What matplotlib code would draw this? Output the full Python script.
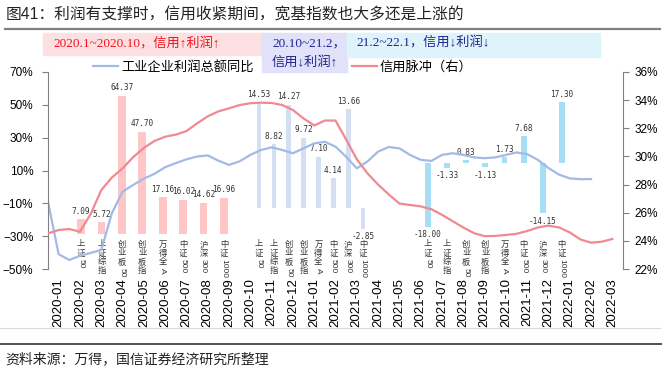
import matplotlib.pyplot as plt
import numpy as np
import pandas as pd
from matplotlib.patches import Rectangle
from matplotlib.lines import Line2D
from matplotlib.transforms import blended_transform_factory, offset_copy

plt.rcParams['font.family'] = ['Liberation Sans', 'Noto Sans CJK SC']

# x axis: months
months = pd.date_range('2020-01', '2022-03', freq='MS').strftime('%Y-%m').tolist()

# lines, read every half month starting half a month before 2020-01
line_x = np.arange(-0.5, 26.01, 0.5)
profit_yoy = [-9, -41, -44.5, -42, -40.2, -38.4, -16, -2.9, 1.2, 5, 8, 12, 14.5,
              16.8, 18.5, 19.2, 16, 13.4, 15.6, 19.5, 22.5, 24.1, 22.5, 20.5, 23.5,
              26.5, 27.5, 24.5, 18.4, 11.3, 15.5, 21.5, 24.3, 23.5, 19.5, 16.5, 15.8,
              19.5, 20.5, 19.5, 18.0, 17.5, 18.0, 19.5, 21.0, 20.0, 16.5, 11.5, 7.5,
              5.2, 4.7, 4.8]
credit_impulse = [24.53, 24.77, 24.84, 24.65, 25.9, 27.6, 28.5, 29.15, 29.95, 30.6,
                  31.1, 31.4, 31.55, 31.8, 32.35, 32.85, 33.2, 33.42, 33.65, 33.78,
                  33.82, 33.8, 33.65, 33.3, 32.7, 32.2, 32.55, 32.55, 31.2, 29.8,
                  28.8, 28.0, 27.3, 26.65, 26.55, 26.45, 26.25, 25.85, 25.4, 24.95,
                  24.55, 24.33, 24.35, 24.42, 24.5, 24.7, 24.95, 25.08, 24.95, 24.6,
                  24.1, 23.87, 23.94, 24.13]

# index returns (%) in the three periods
index_names = ['上证50', '上证综指', '创业板50', '创业板指', '万得全A', '中证500', '沪深300', '中证1000']
ret_2020 = [7.09, 5.72, 64.37, 47.70, 17.16, 16.02, 14.62, 16.96]
ret_2020_2021 = [14.53, 8.82, 14.27, 9.72, 7.10, 4.14, 13.66, -2.85]
ret_2021_2022 = [-18.00, -1.33, 0.83, -1.13, 1.73, 7.68, -14.15, 17.30]

W, H = 662, 378
fig = plt.figure(figsize=(W / 100, H / 100), dpi=100)


def box(l, t, r, b):
    # pixel box -> figure fraction rect
    return [l / W, 1 - b / H, (r - l) / W, (b - t) / H]


blue = '#a3b9e6'
red = '#f08a90'
navy = '#23238f'

# bar groups, each on its own hidden axes
groups = [
    (ret_2020, '#ffc6c8', box(70.8, 83.6, 234.2, 234.3), (0, 70), 0.38),
    (ret_2020_2021, '#d5dff2', box(251.6, 92.0, 370.5, 244.65), (-5, 16), 0.32),
    (ret_2021_2022, '#a6def6', box(418.4, 92.9, 571.5, 233.7), (-20, 20), 0.31),
]
label_top = 1 - 241 / H
for vals, col, rect, ylim, bw in groups:
    axb = fig.add_axes(rect)
    axb.bar(range(len(vals)), vals, width=bw, color=col)
    axb.set_xlim(-0.5, len(vals) - 0.5)
    axb.set_ylim(*ylim)
    axb.axis('off')
    for i, v in enumerate(vals):
        axb.annotate(f'{v:.2f}', (i, v), xytext=(0, 2.5 if v >= 0 else -2.5),
                     textcoords='offset points', ha='center',
                     va='bottom' if v >= 0 else 'top', fontsize=5.6,
                     family='DejaVu Sans Mono', color='#333333')
    trans = blended_transform_factory(axb.transData, fig.transFigure)
    for i, name in enumerate(index_names):
        cjk = ''.join(c for c in name if ord(c) > 127)
        asc = name[len(cjk):]
        for k, ch in enumerate(cjk):
            axb.text(i, label_top, ch, transform=offset_copy(trans, fig=fig, y=-k * 6.2, units='points'),
                     ha='center', va='top', fontsize=6, color='#333333')
        if asc:
            axb.text(i, label_top, asc,
                     transform=offset_copy(trans, fig=fig, y=-len(cjk) * 6.2 - 0.5, units='points'),
                     rotation=270, ha='center', va='top', fontsize=6, color='#333333')

# main axes with the two lines
ax = fig.add_axes(box(48, 72, 623, 269))
ax.patch.set_visible(False)
l1, = ax.plot(line_x[:len(profit_yoy)], profit_yoy, color=blue, lw=1.6)
ax.set_xlim(-0.5, len(months) - 0.5)
ax.set_ylim(-50, 70)
yt = list(range(-50, 71, 20))
ax.set_yticks(yt)
ax.set_yticklabels([f'{v}%'.replace('-', '\u2212') for v in yt], fontsize=8.5)
ax.set_xticks(range(len(months)))
ax.set_xticklabels(months, rotation=90, fontsize=9.5)
ax.tick_params(axis='x', length=0, pad=6.5)
ax.tick_params(axis='y', length=4, pad=6.5, color='#808080')

ax2 = ax.twinx()
l2, = ax2.plot(line_x, credit_impulse, color=red, lw=1.6)
ax2.set_ylim(22, 36)
rt = list(range(22, 37, 2))
ax2.set_yticks(rt)
ax2.set_yticklabels([f'{v}%' for v in rt], fontsize=8.5)
ax2.tick_params(axis='y', length=4, pad=4.5, color='#808080')

for a in (ax, ax2):
    a.spines['top'].set_visible(False)
    a.spines['bottom'].set_visible(False)
ax.spines['right'].set_visible(False)
ax2.spines['left'].set_visible(False)
ax.spines['left'].set_color('#808080')
ax2.spines['right'].set_color('#808080')

fig.legend(handles=[l1, l2], labels=['工业企业利润总额同比', '信用脉冲（右）'],
           loc='center left', bbox_to_anchor=(93 / W, 1 - 67 / H), ncol=2,
           frameon=False, fontsize=9.5, handlelength=1.9, handletextpad=0.25,
           columnspacing=7.4, borderaxespad=0, borderpad=0)

# period boxes
serif = ['Liberation Serif', 'Noto Sans CJK SC']
for (l, t, r, b), col in [((43, 33, 262, 55), '#fde0e1'),
                          ((262, 33, 347, 72), '#e1e1f9'),
                          ((347, 33, 600, 57), '#dff3fa')]:
    x0, y0, w, h = box(l, t, r, b)
    fig.add_artist(Rectangle((x0, y0), w, h, color=col, transform=fig.transFigure, zorder=8))
fig.text(53 / W, 1 - 44 / H, '2020.1~2020.10，信用↑利润↑', color='#f0141e', fontsize=9.5,
         family=serif, va='center', zorder=9)
fig.text(272 / W, 1 - 43 / H, '20.10~21.2，', color=navy, fontsize=9.5, family=serif,
         va='center', zorder=9)
fig.text(272 / W, 1 - 62 / H, '信用↓利润↑', color=navy, fontsize=9.5, family=serif,
         va='center', zorder=9)
fig.text(356 / W, 1 - 43 / H, '21.2~22.1，信用↓利润↓', color=navy, fontsize=9.5, family=serif,
         va='center', zorder=9)

# title, rules and source
fig.text(6 / W, 1 - 15 / H, '图41：利润有支撑时，信用收紧期间，宽基指数也大多还是上涨的',
         fontsize=11.3, color='#222222', va='center')
fig.add_artist(Line2D([5 / W, 660 / W], [1 - 28.5 / H] * 2, color='#808080', lw=1.6,
                      transform=fig.transFigure))
fig.add_artist(Line2D([0, 660 / W], [1 - 328 / H] * 2, color='#d9d9d9', lw=0.8,
                      transform=fig.transFigure))
fig.add_artist(Line2D([0, 1], [1 - 344 / H] * 2, color='#333333', lw=1.2,
                      transform=fig.transFigure))
fig.text(5 / W, 1 - 359 / H, '资料来源：万得，国信证券经济研究所整理', fontsize=10,
         color='#222222', va='center')

fig.savefig('out.png', dpi=100)
